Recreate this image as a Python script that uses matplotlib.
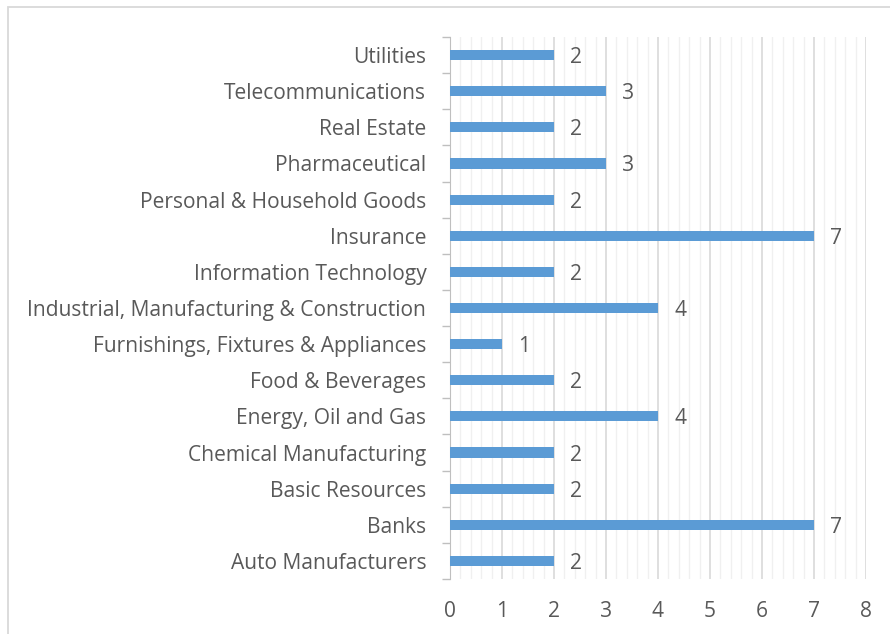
import matplotlib.pyplot as plt
import matplotlib.patches as mpatches
from matplotlib.ticker import MultipleLocator, FixedLocator

# Datos (de abajo hacia arriba)
sectores = ['Auto Manufacturers', 'Banks', 'Basic Resources', 'Chemical Manufacturing',
            'Energy, Oil and Gas', 'Food & Beverages', 'Furnishings, Fixtures & Appliances',
            'Industrial, Manufacturing & Construction', 'Information Technology', 'Insurance',
            'Personal & Household Goods', 'Pharmaceutical', 'Real Estate',
            'Telecommunications', 'Utilities']
cantidades = [2, 7, 2, 2, 4, 2, 1, 4, 2, 7, 2, 3, 2, 3, 2]

plt.rcParams['font.family'] = ['Open Sans', 'DejaVu Sans']
gris_texto = '#595959'
tam = 15.1

fig = plt.figure(figsize=(8.9, 6.34), dpi=100)
ax = fig.add_axes([0.5056, 0.0868, 0.4674, 0.8548])

# Borde del gráfico
fig.patches.append(mpatches.Rectangle((8 / 890, -0.05), 1.2, 1 - 7 / 634 + 0.05,
                                      transform=fig.transFigure, fill=False,
                                      edgecolor='#d9d9d9', linewidth=1.3))

pos = list(range(len(sectores)))
ax.barh(pos, cantidades, height=0.28, color='#5B9BD5', zorder=3)

for y, v in zip(pos, cantidades):
    ax.text(v + 0.31, y, str(v), va='center_baseline', ha='left', fontsize=tam, color=gris_texto)

ax.set_xlim(0, 8)
ax.set_ylim(-0.5, len(sectores) - 0.5)
ax.set_yticks(pos)
ax.set_yticklabels(sectores, fontsize=tam, color=gris_texto, va='center_baseline')
ax.yaxis.set_minor_locator(FixedLocator([p - 0.5 for p in range(len(sectores) + 1)]))
ax.tick_params(axis='y', which='major', length=0, pad=17)
ax.tick_params(axis='y', which='minor', length=6, color='#bfbfbf', width=1)

ax.xaxis.set_major_locator(MultipleLocator(1))
ax.xaxis.set_minor_locator(MultipleLocator(0.2))
ax.tick_params(axis='x', which='both', length=0, pad=16, labelsize=tam, labelcolor=gris_texto)
ax.grid(axis='x', which='major', color='#d9d9d9', linewidth=1.2, zorder=0)
ax.grid(axis='x', which='minor', color='#f0f0f0', linewidth=1, zorder=0)
ax.set_axisbelow(True)

for lado in ['top', 'right', 'bottom']:
    ax.spines[lado].set_visible(False)
ax.spines['left'].set_color('#bfbfbf')

fig.savefig('out.png', dpi=100)
